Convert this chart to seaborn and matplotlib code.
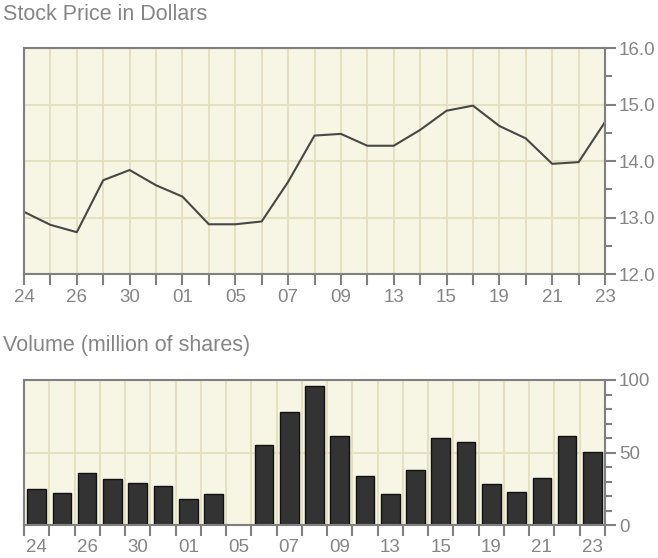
import numpy as np
import pandas as pd
import seaborn as sns
import matplotlib.pyplot as plt
from matplotlib.ticker import MultipleLocator, FixedLocator

# trading days (day of month), closing price and traded volume
days = ['24', '25', '26', '29', '30', '31', '01', '02', '05', '06', '07', '08',
        '09', '12', '13', '14', '15', '16', '19', '20', '21', '22', '23']
price = [13.10, 12.87, 12.74, 13.66, 13.84, 13.57, 13.37, 12.88, 12.88, 12.93,
         13.63, 14.45, 14.48, 14.27, 14.27, 14.55, 14.89, 14.98, 14.62, 14.40,
         13.95, 13.98, 14.69]
volume = [25.1, 22.4, 36.2, 32.0, 29.3, 26.7, 18.2, 21.2, 0, 55.5, 77.6, 95.6,
          61.3, 33.6, 21.2, 37.6, 59.9, 57.1, 28.1, 22.6, 32.3, 61.3, 50.2]

df = pd.DataFrame({'idx': range(len(days)), 'day': days,
                   'price': price, 'volume': volume})
labels = [d if i % 2 == 0 else '' for i, d in enumerate(days)]

sns.set_style('white')
plt.rcParams['font.family'] = ['Liberation Sans', 'DejaVu Sans']

bg = '#f7f5e4'
grid_c = '#e4e0c0'
frame_c = '#808080'
text_c = '#858585'

W, H = 658, 558
fig = plt.figure(figsize=(W / 100, H / 100), dpi=100)
ax1 = fig.add_axes([24 / W, 1 - 274 / H, (605 - 24) / W, (274 - 48) / H])
ax2 = fig.add_axes([24 / W, 1 - 525 / H, (605 - 24) / W, (525 - 380) / H])


def style_axis(ax):
    ax.set_facecolor(bg)
    ax.set_axisbelow(True)
    for s in ax.spines.values():
        s.set_color(frame_c)
        s.set_linewidth(1.5)
    ax.yaxis.tick_right()
    ax.tick_params(which='both', colors=frame_c, labelcolor=text_c,
                   labelsize=13.5, width=1.5, direction='out')
    ax.tick_params(axis='x', which='both', bottom=True, top=False)
    ax.tick_params(axis='y', which='both', right=True, left=False, pad=2)
    ax.tick_params(which='major', length=8)
    ax.tick_params(which='minor', length=5)
    ax.set_xlabel('')
    ax.set_ylabel('')


# price line
sns.lineplot(data=df, x='idx', y='price', ax=ax1, color='#474747', lw=1.5)
ax1.set_xlim(0, 22)
ax1.set_ylim(12, 16)
ax1.set_xticks(range(len(days)))
ax1.set_xticklabels(labels)
ax1.set_yticks([12, 13, 14, 15, 16])
ax1.set_yticklabels(['12.0', '13.0', '14.0', '15.0', '16.0'])
ax1.yaxis.set_minor_locator(MultipleLocator(0.5))
ax1.grid(True, which='major', color=grid_c, lw=1.5)
style_axis(ax1)
ax1.tick_params(axis='x', which='major', pad=3)

# volume bars
sns.barplot(data=df, x='idx', y='volume', ax=ax2, color='#333333',
            edgecolor='#111111', linewidth=1, width=0.74, saturation=1)
ax2.set_xlim(-0.5, 22.5)
ax2.set_ylim(0, 100)
ax2.xaxis.set_major_locator(FixedLocator(np.arange(-0.5, 23)))
ax2.xaxis.set_minor_locator(FixedLocator(np.arange(0, 23)))
ax2.set_xticklabels([''] * 24)
ax2.set_xticklabels(labels, minor=True)
ax2.set_yticks([0, 50, 100])
ax2.yaxis.set_minor_locator(MultipleLocator(10))
ax2.grid(True, axis='x', which='major', color=grid_c, lw=1.5)
ax2.axhline(50, color=grid_c, lw=1.5, zorder=0)
style_axis(ax2)
ax2.tick_params(axis='x', which='minor', length=0, pad=10)
ax2.tick_params(axis='y', which='minor', length=5)

fig.text(3 / W, 1 - 15 / H, 'Stock Price in Dollars', color=text_c,
         fontsize=15.5, va='center', ha='left')
fig.text(3 / W, 1 - 346 / H, 'Volume (million of shares)', color=text_c,
         fontsize=15.5, va='center', ha='left')

fig.savefig('out.png', dpi=100)
